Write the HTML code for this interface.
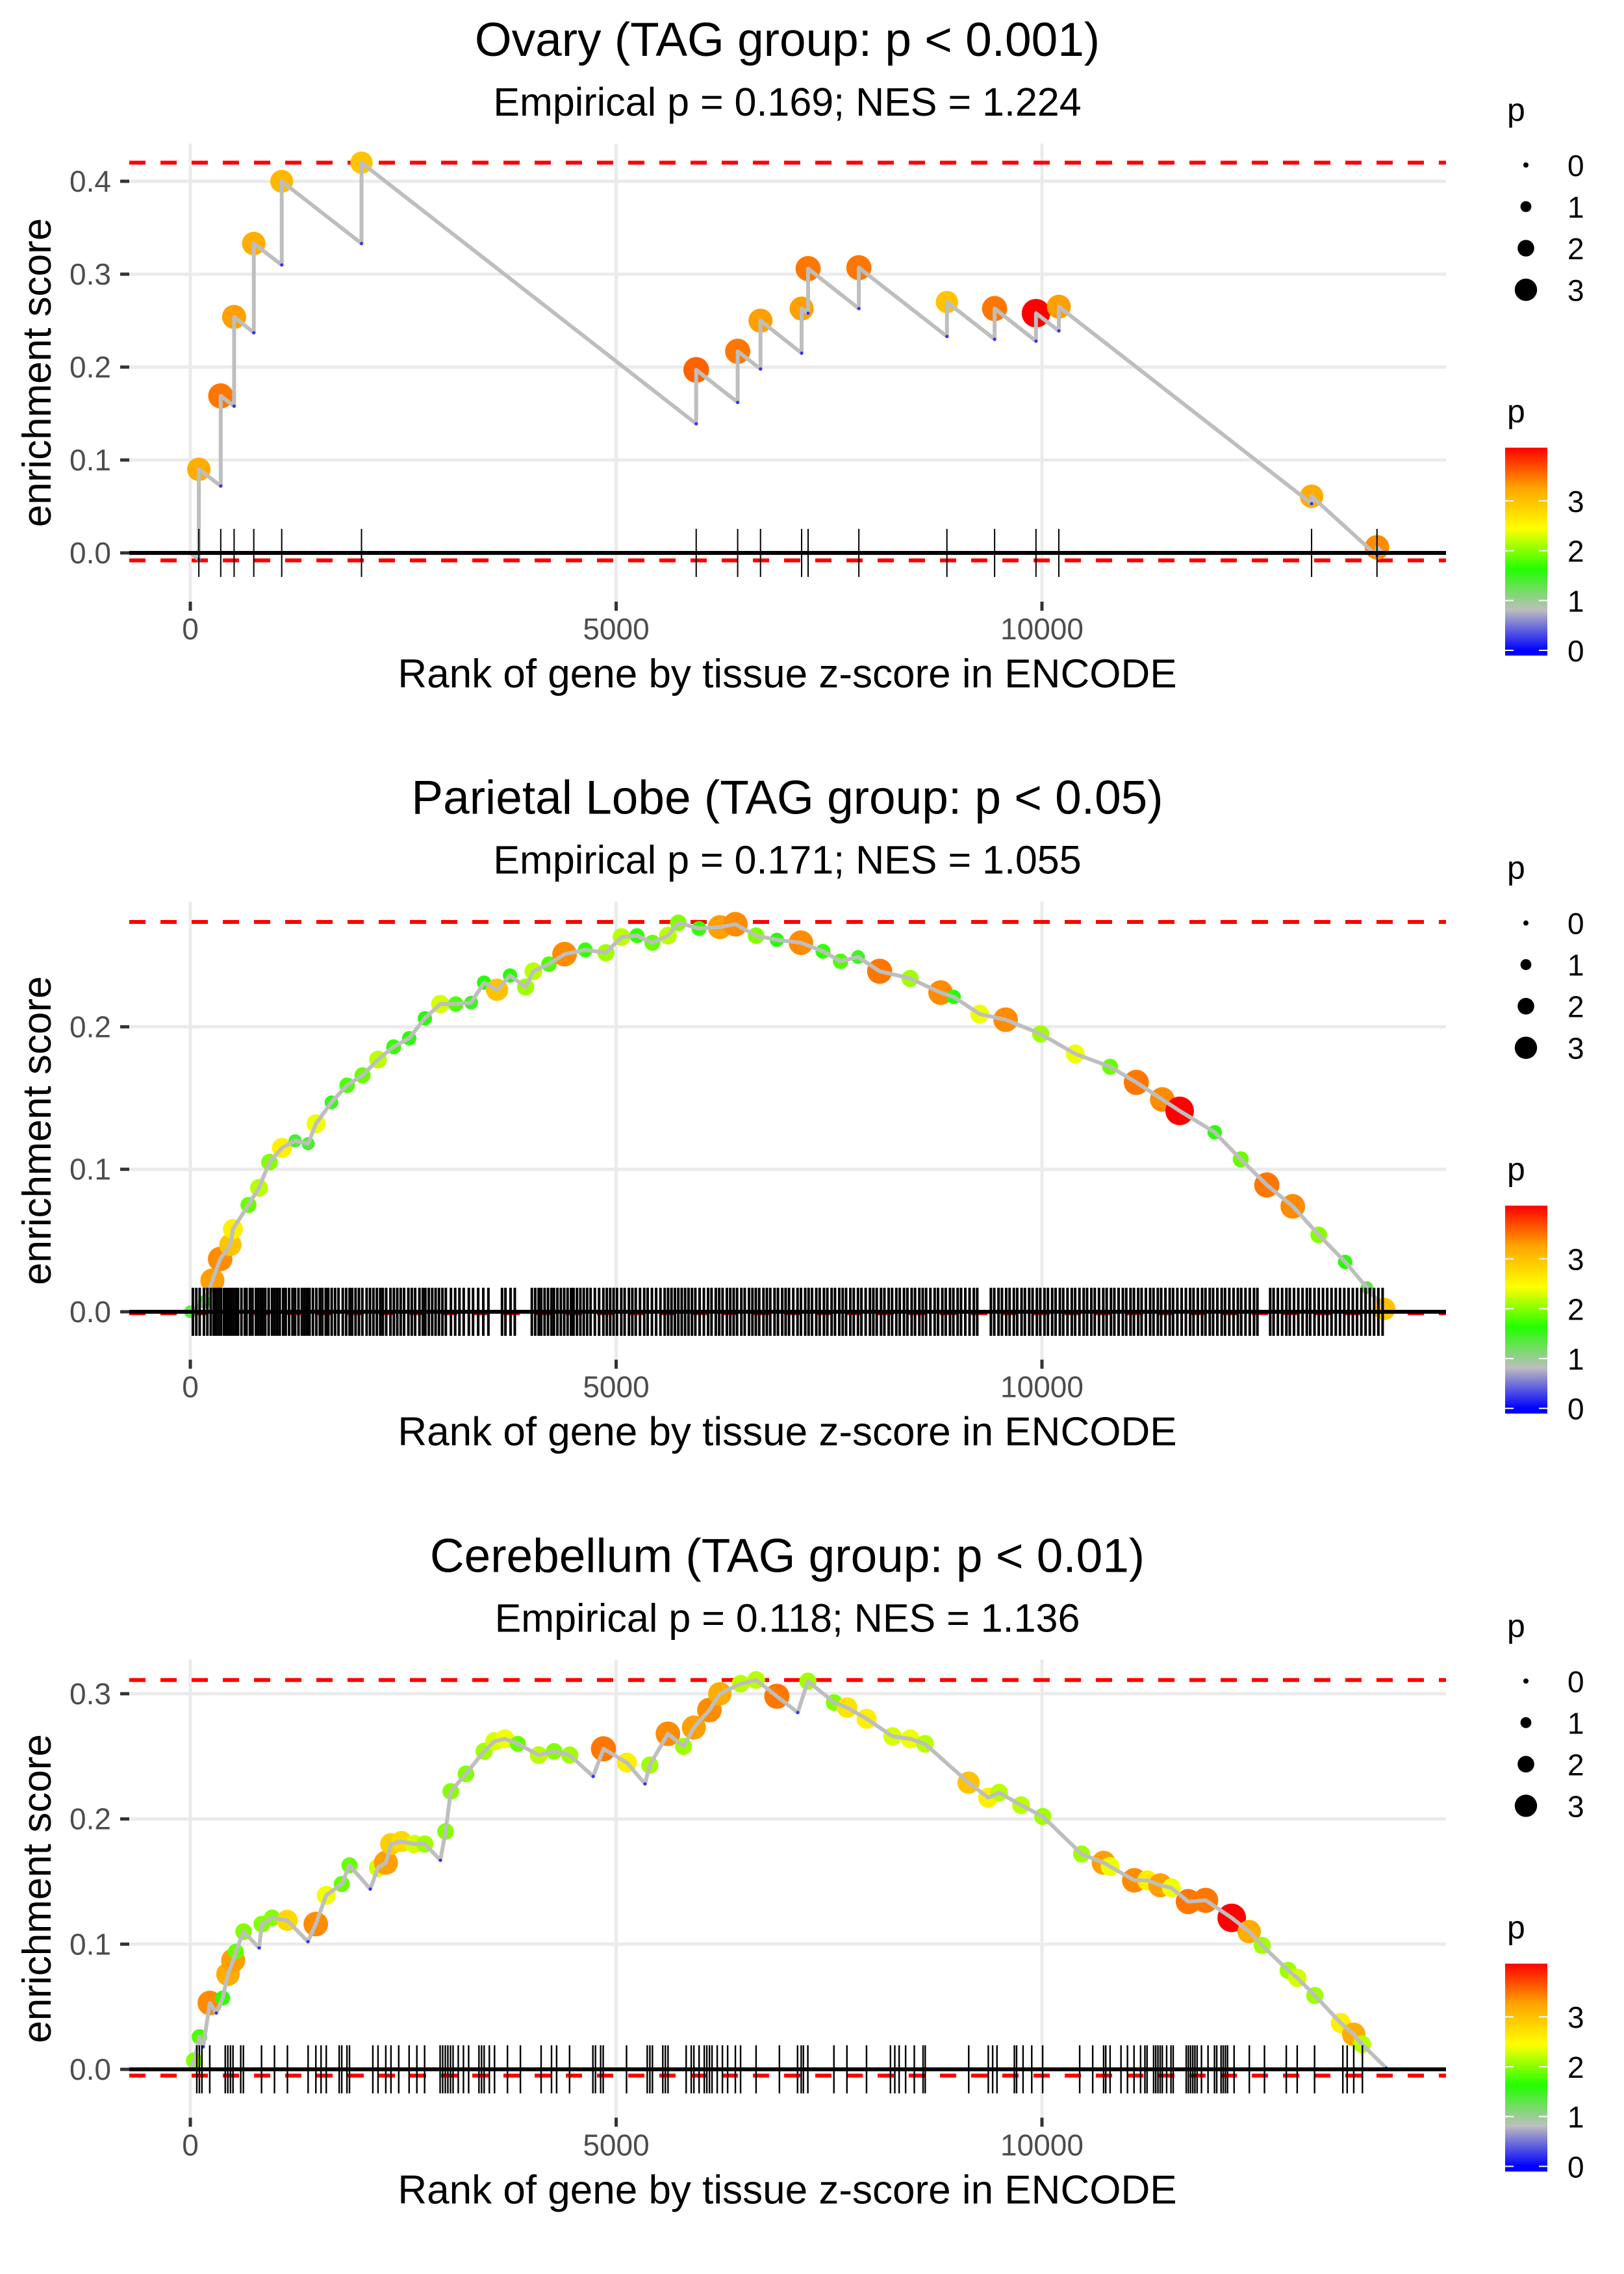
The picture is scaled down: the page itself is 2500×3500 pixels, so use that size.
<!DOCTYPE html>
<html><head><meta charset="utf-8">
<style>
html,body{margin:0;padding:0;background:#fff;}
svg{display:block;font-family:"Liberation Sans",sans-serif;}
</style></head>
<body>
<svg id="chart" width="2500" height="3500" viewBox="0 0 2500 3500" xmlns="http://www.w3.org/2000/svg">
<defs>
<linearGradient id="pgrad" x1="0" y1="1" x2="0" y2="0">
<stop offset="0.025" stop-color="#0000ff"/>
<stop offset="0.22" stop-color="#bebebe"/>
<stop offset="0.415" stop-color="#22ff00"/>
<stop offset="0.61" stop-color="#ffff00"/>
<stop offset="0.805" stop-color="#ffa500"/>
<stop offset="1" stop-color="#ff0000"/>
</linearGradient>
</defs>
</svg>
<script>
// ---------- data ----------
const panelTitles = ["Ovary (TAG group: p < 0.001)", "Parietal Lobe (TAG group: p < 0.05)", "Cerebellum (TAG group: p < 0.01)"];
const panelSubtitles = ["Empirical p = 0.169; NES = 1.224", "Empirical p = 0.171; NES = 1.055", "Empirical p = 0.118; NES = 1.136"];
const xTicks = [0, 5000, 10000];
const yTicks1 = [0, 0.1, 0.2, 0.3, 0.4];
const yTicks2 = [0, 0.1, 0.2];
const yTicks3 = [0, 0.1, 0.2, 0.3];
const esMax = [0.420, 0.2736, 0.311];
const esMin = [-0.008, -0.001, -0.005];
const nGenes = [14000, 14020, 14043];

// Ovary hits
const ovaryRanks = [100,357,514,745,1073,2010,5940,6427,6695,7178,7254,7850,8884,9444,9930,10198,13166,13934];
const ovaryPeak = [0.090,0.169,0.254,0.333,0.400,0.420,0.197,0.217,0.250,0.263,0.306,0.307,0.270,0.263,0.258,0.265,0.061,0.006];
const ovaryTrough = [-0.007,0.072,0.158,0.237,0.310,0.333,0.139,0.162,0.198,0.215,0.258,0.263,0.233,0.230,0.228,0.239,0.053,-0.003];
const ovaryP = [3.2,3.5,3.3,3.2,3.1,3.0,3.6,3.5,3.3,3.3,3.5,3.5,3.0,3.5,4.09,3.3,3.2,3.4];

// Parietal lobe curve
const parRanks = [0,168,259,350,470,500,683,806,929,1076,1230,1384,1476,1657,1841,2022,2204,2387,2570,2754,2935,3117,3297,3449,3602,3754,3937,4028,4211,4394,4638,4880,5063,5245,5426,5608,5730,5973,6218,6400,6643,6887,7170,7428,7635,7841,8094,8452,8810,8963,9268,9573,9985,10391,10800,11108,11413,11617,12028,12334,12640,12945,13250,13560,13815,14020];
const parES = [0,0.007,0.022,0.037,0.047,0.058,0.075,0.087,0.105,0.115,0.120,0.118,0.132,0.147,0.159,0.166,0.177,0.186,0.192,0.206,0.216,0.216,0.217,0.231,0.226,0.236,0.228,0.239,0.244,0.251,0.254,0.252,0.263,0.264,0.259,0.264,0.273,0.269,0.270,0.272,0.264,0.261,0.259,0.253,0.246,0.249,0.239,0.234,0.224,0.221,0.209,0.205,0.195,0.181,0.172,0.161,0.149,0.141,0.126,0.107,0.089,0.074,0.054,0.035,0.017,0.002];
const parP = [1.3,1.4,3.3,3.4,3.0,2.6,1.9,2.2,2.0,2.6,1.4,1.4,2.4,1.5,1.8,1.9,2.2,1.7,1.6,1.6,2.3,1.8,1.5,1.6,3.0,1.6,2.1,2.2,1.8,3.4,1.7,2.1,2.2,1.7,1.9,2.2,2.0,1.7,3.3,3.4,2.0,1.6,3.4,1.7,1.8,1.5,3.5,2.1,3.4,1.6,2.4,3.4,2.1,2.4,1.9,3.5,3.4,4.09,1.6,1.9,3.5,3.4,2.0,1.6,1.3,3.0];
const parRug = [30,70,110,160,200,240,275,300,330,360,395,420,450,480,510,540,560,600,640,660,700,730,770,800,830,850,880,920,960,990,1020,1050,1090,1120,1160,1200,1230,1270,1310,1340,1370,1400,1440,1480,1520,1550,1590,1620,1660,1700,1740,1790,1830,1870,1900,1940,1980,2020,2070,2110,2150,2190,2230,2260,2300,2350,2390,2430,2470,2510,2560,2600,2640,2690,2730,2760,2800,2840,2880,2920,2960,3000,3060,3110,3160,3210,3270,3320,3380,3440,3500,3660,3700,3760,3810,4010,4050,4090,4120,4160,4200,4240,4270,4310,4350,4390,4430,4470,4500,4540,4580,4620,4660,4700,4750,4800,4850,4890,4930,4970,5010,5060,5100,5150,5190,5230,5280,5330,5370,5420,5470,5520,5570,5610,5650,5690,5730,5770,5810,5850,5890,5930,5980,6030,6080,6120,6170,6210,6250,6300,6340,6380,6420,6470,6510,6560,6600,6640,6680,6730,6770,6810,6860,6900,6950,6990,7030,7080,7130,7170,7220,7260,7300,7350,7390,7440,7480,7530,7570,7620,7660,7700,7750,7790,7840,7880,7930,7980,8020,8060,8110,8150,8200,8240,8290,8330,8380,8420,8470,8510,8560,8600,8640,8690,8740,8780,8830,8870,8920,8960,9010,9050,9100,9150,9200,9240,9400,9440,9490,9530,9580,9620,9670,9710,9760,9800,9850,9890,9940,9980,10030,10070,10120,10160,10210,10250,10300,10350,10390,10440,10490,10530,10580,10620,10670,10720,10760,10810,10850,10900,10950,10990,11040,11080,11130,11170,11220,11270,11310,11360,11400,11450,11500,11540,11590,11640,11690,11740,11780,11830,11880,11920,11970,12010,12060,12110,12150,12200,12250,12300,12340,12390,12440,12490,12530,12680,12720,12770,12820,12870,12910,12960,13010,13060,13110,13150,13200,13250,13300,13350,13400,13450,13500,13550,13600,13650,13700,13750,13800,13850,13900,13950,14000];

// Cerebellum curve
const cerRanks = [0,46,107,150,229,305,381,442,503,534,625,808,839,961,1137,1381,1473,1595,1778,1869,2113,2204,2296,2357,2479,2631,2753,2936,2997,3058,3236,3449,3571,3693,3846,4090,4272,4455,4730,4851,5126,5339,5394,5608,5791,5913,6095,6218,6461,6644,6887,7132,7252,7559,7712,7941,8245,8452,8627,9138,9369,9497,9755,10009,10466,10724,10800,11084,11236,11390,11519,11718,11922,12228,12433,12586,12891,12999,13204,13509,13661,13760,14043];
const cerES = [0,0.007,0.026,0.018,0.053,0.045,0.057,0.076,0.087,0.094,0.110,0.097,0.116,0.121,0.119,0.102,0.116,0.139,0.148,0.163,0.144,0.161,0.165,0.180,0.182,0.180,0.180,0.167,0.190,0.222,0.236,0.254,0.262,0.264,0.260,0.251,0.254,0.251,0.234,0.256,0.245,0.228,0.243,0.268,0.258,0.273,0.287,0.300,0.308,0.311,0.298,0.285,0.310,0.293,0.289,0.280,0.266,0.264,0.260,0.229,0.217,0.221,0.211,0.202,0.172,0.165,0.162,0.151,0.151,0.147,0.145,0.134,0.135,0.121,0.110,0.099,0.079,0.073,0.059,0.037,0.028,0.020,0.001];
const cerP = [0,2.0,1.8,0,3.4,0,1.7,3.2,3.3,1.9,2.0,0,2.0,2.0,2.8,0,3.4,2.4,1.9,1.9,0,2.3,3.3,2.9,2.8,2.3,2.1,0,2.0,2.0,2.0,2.1,2.3,2.4,1.9,2.2,2.0,2.1,0,3.5,2.6,0,2.1,3.4,2.1,3.3,3.4,3.2,2.2,2.2,3.5,0,2.1,2.0,2.7,2.6,2.3,2.4,2.2,3.0,2.6,2.2,2.2,2.1,2.1,3.3,2.4,3.4,2.6,3.3,2.4,3.5,3.5,4.09,3.2,2.1,2.1,2.3,2.1,2.6,3.2,2.2,0];
const cerRug = [76,106,136,228,410,440,471,501,592,623,836,988,1140,1383,1474,1535,1596,1748,1778,1839,1869,2143,2204,2295,2356,2447,2569,2660,2751,2933,2963,2994,3024,3055,3085,3146,3207,3268,3389,3420,3450,3511,3572,3724,3876,4119,4241,4301,4453,4727,4757,4818,4848,5122,5365,5396,5426,5548,5578,5609,5822,5882,5913,5974,6035,6065,6096,6126,6187,6248,6309,6400,6461,6643,6917,7130,7173,7199,7251,7557,7710,7940,8221,8272,8323,8399,8501,8604,8629,9140,9370,9421,9472,9676,9702,9778,9880,10008,10443,10596,10724,10749,10800,10928,11004,11081,11158,11209,11234,11311,11336,11362,11388,11413,11464,11515,11541,11694,11719,11745,11771,11796,11822,11873,11950,12026,12052,12103,12128,12154,12179,12256,12435,12613,12869,12997,13201,13533,13584,13661,13763];

const legendSizes = [0, 1, 2, 3];
const colorbarTicks = [0, 1, 2, 3];
const pMax = 4.09;

// ---------- layout ----------
const NS = "http://www.w3.org/2000/svg";
const svg = document.getElementById("chart");
const PH = 3500 / 3;
const X0 = 293, XK = 0.1311;
const PL = 199, PR = 2226;
const zeroY = [851, 2019, 3185];
const perUnit = [1430, 2193, 1927];
function xS(r) { return X0 + XK * r; }
function yS(k, v) { return zeroY[k] - perUnit[k] * v; }
function el(tag, attrs, parent) {
  const e = document.createElementNS(NS, tag);
  for (const a in attrs) e.setAttribute(a, attrs[a]);
  (parent || svg).appendChild(e);
  return e;
}
const stops = [[0,[0,0,255]],[0.2,[190,190,190]],[0.4,[34,255,0]],[0.6,[255,255,0]],[0.8,[255,165,0]],[1,[255,0,0]]];
function pColor(p) {
  let t = Math.max(0, Math.min(1, p / pMax));
  for (let i = 1; i < stops.length; i++) {
    if (t <= stops[i][0]) {
      const a = stops[i-1], b = stops[i];
      const f = (t - a[0]) / (b[0] - a[0]);
      const c = a[1].map((v, j) => Math.round(v + (b[1][j] - v) * f));
      return "rgb(" + c.join(",") + ")";
    }
  }
  return "rgb(255,0,0)";
}
function pRadius(p) { return 4 + 4.4 * p; }

function drawPanel(k, yTicks, ranks, es, pv, rug, ovaryStyle) {
  const off = k * PH;
  const g = el("g", {});
  
  
  const top = 221 + off, bot = 926 + off;

  let t = el("text", {x: 1212, y: 86 + off, "font-size": 73, "text-anchor": "middle", fill: "#000"}, g);
  t.textContent = panelTitles[k];
  
  
  t = el("text", {x: 1212, y: 178 + off, "font-size": 61, "text-anchor": "middle", fill: "#000"}, g);
  t.textContent = panelSubtitles[k];
  
  

  yTicks.forEach(v => {
    const y = yS(k, v);
    const gl = el("line", {x1: PL, x2: PR, y1: y, y2: y, stroke: "#ebebeb", "stroke-width": 5}, g);
    
    
    const tk = el("line", {x1: 185, x2: 199, y1: y, y2: y, stroke: "#333", "stroke-width": 5}, g);
    
    
    const lb = el("text", {x: 171, y: y + 16, "font-size": 46, "text-anchor": "end", fill: "#4d4d4d"}, g);
    lb.textContent = v.toFixed(1);
    
    
  });
  xTicks.forEach(v => {
    const x = xS(v);
    const gl = el("line", {x1: x, x2: x, y1: top, y2: bot, stroke: "#ebebeb", "stroke-width": 5}, g);
    
    
    const tk = el("line", {x1: x, x2: x, y1: bot, y2: bot + 14, stroke: "#333", "stroke-width": 5}, g);
    
    
    const lb = el("text", {x: x, y: 984 + off, "font-size": 46, "text-anchor": "middle", fill: "#4d4d4d"}, g);
    lb.textContent = String(v);
    
    
  });

  t = el("text", {x: 1212, y: 1058 + off, "font-size": 62, "text-anchor": "middle", fill: "#000"}, g);
  t.textContent = "Rank of gene by tissue z-score in ENCODE";
  
  
  const cy = (top + bot) / 2;
  t = el("text", {x: 0, y: 0, "font-size": 62, "text-anchor": "middle", fill: "#000", transform: "translate(78," + cy + ") rotate(-90)"}, g);
  t.textContent = "enrichment score";
  
  

  [esMax[k], esMin[k]].forEach((v, i) => {
    const y = yS(k, v);
    const d = el("line", {x1: PL, x2: PR, y1: y, y2: y, stroke: "#ff0000", "stroke-width": 6, "stroke-dasharray": "25 23"}, g);
    
    
  });

  let verts = [];
  let pts = [];
  if (ovaryStyle) {
    verts.push([0, 0]);
    for (let i = 0; i < ranks.length; i++) {
      verts.push([ranks[i], ovaryTrough[i]]);
      verts.push([ranks[i], es[i]]);
      pts.push([ranks[i], ovaryTrough[i], 0]);
      pts.push([ranks[i], es[i], pv[i]]);
    }
    verts.push([nGenes[k], 0]);
  } else {
    for (let i = 0; i < ranks.length; i++) {
      verts.push([ranks[i], es[i]]);
      pts.push([ranks[i], es[i], pv[i]]);
    }
  }
  pts.filter(p => p[2] > 0).forEach(p => {
    const c = el("circle", {cx: xS(p[0]), cy: yS(k, p[1]), r: pRadius(p[2]), fill: pColor(p[2])}, g);
    
    
  });
  const line = el("polyline", {points: verts.map(v => xS(v[0]).toFixed(1) + "," + yS(k, v[1]).toFixed(1)).join(" "), fill: "none", stroke: "#bebebe", "stroke-width": 6, "stroke-linejoin": "round"}, g);
  
  
  pts.filter(p => p[2] === 0).forEach(p => {
    const c = el("circle", {cx: xS(p[0]), cy: yS(k, p[1]), r: 2.5, fill: "#3030ff"}, g);
    
    
  });

  const rg = el("g", {}, g);
  
  
  const rw = ovaryStyle ? 2 : (k === 1 ? 4 : 2.4);
  rug.forEach(r => {
    const l = el("line", {x1: xS(r), x2: xS(r), y1: yS(k, 0) - 37, y2: yS(k, 0) + 37, stroke: "#000", "stroke-width": rw}, rg);
    
    
  });
  const z = el("line", {x1: PL, x2: PR, y1: yS(k, 0), y2: yS(k, 0), stroke: "#000", "stroke-width": 6}, g);
  
  

  const lg = el("g", {}, g);
  
  
  t = el("text", {x: 2320, y: 186 + off, "font-size": 50, fill: "#000"}, lg);
  t.textContent = "p";
  
  
  legendSizes.forEach((s, i) => {
    const y = 254 + off + i * 64;
    const c = el("circle", {cx: 2349, cy: y, r: pRadius(s), fill: "#000"}, lg);
    
    
    const lb = el("text", {x: 2413, y: y + 17, "font-size": 46, fill: "#000"}, lg);
    lb.textContent = String(s);
    
    
  });
  const cg = el("g", {}, g);
  
  
  t = el("text", {x: 2320, y: 650 + off, "font-size": 50, fill: "#000"}, cg);
  t.textContent = "p";
  
  
  const bar = el("rect", {x: 2317, y: 689 + off, width: 65, height: 320, fill: "url(#pgrad)"}, cg);
  
  
  colorbarTicks.forEach(v => {
    const y = 1001 + off - 76.7 * v;
    const a = el("line", {x1: 2317, x2: 2330, y1: y, y2: y, stroke: "#fff", "stroke-width": 2}, cg);
    
    
    const b = el("line", {x1: 2369, x2: 2382, y1: y, y2: y, stroke: "#fff", "stroke-width": 2}, cg);
    
    
    const lb = el("text", {x: 2413, y: y + 17, "font-size": 46, fill: "#000"}, cg);
    lb.textContent = String(v);
    
    
  });
}

drawPanel(0, yTicks1, ovaryRanks, ovaryPeak, ovaryP, ovaryRanks, true);
drawPanel(1, yTicks2, parRanks, parES, parP, parRug, false);
drawPanel(2, yTicks3, cerRanks, cerES, cerP, cerRug, false);
</script>
</body></html>
